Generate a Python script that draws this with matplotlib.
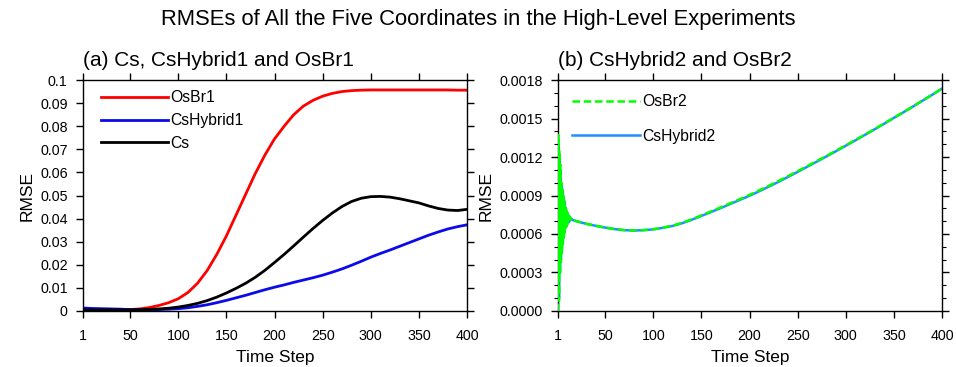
import matplotlib
matplotlib.use("Agg")
import matplotlib.pyplot as plt
import numpy as np
from matplotlib.ticker import FixedLocator, MultipleLocator, FuncFormatter

plt.rcParams['font.family'] = ['Liberation Sans', 'DejaVu Sans']

# ---------------- data: panel (a) ----------------
steps_a = [1, 10, 20, 30, 40, 50, 60, 70, 80, 90, 100, 110, 120, 130, 140, 150, 160, 170,
           180, 190, 200, 210, 220, 230, 240, 250, 260, 270, 280, 290, 300, 310, 320, 330,
           340, 350, 360, 370, 380, 390, 400]
osbr1 = [0.0002, 0.0002, 0.0002, 0.0003, 0.0004, 0.0006, 0.0009, 0.0015, 0.0024, 0.0036,
         0.0053, 0.0080, 0.0120, 0.0175, 0.0245, 0.0325, 0.0415, 0.0505, 0.0595, 0.0675,
         0.0745, 0.0800, 0.0850, 0.0887, 0.0912, 0.0930, 0.0942, 0.0950, 0.0954, 0.0956,
         0.0957, 0.0957, 0.0957, 0.0957, 0.0957, 0.0957, 0.0957, 0.0957, 0.0957, 0.0956,
         0.0956]
cshybrid1 = [0.0013, 0.0011, 0.0010, 0.0009, 0.0008, 0.0006, 0.0005, 0.0005, 0.0006, 0.0008,
             0.0010, 0.0014, 0.0020, 0.0027, 0.0036, 0.0046, 0.0057, 0.0068, 0.0080, 0.0092,
             0.0103, 0.0113, 0.0124, 0.0134, 0.0144, 0.0155, 0.0168, 0.0182, 0.0198, 0.0215,
             0.0233, 0.0249, 0.0264, 0.0280, 0.0296, 0.0312, 0.0328, 0.0342, 0.0355, 0.0365,
             0.0373]
cs = [0.0005, 0.0005, 0.0005, 0.0005, 0.0005, 0.0005, 0.0006, 0.0007, 0.0009, 0.0012,
      0.0017, 0.0024, 0.0033, 0.0045, 0.0060, 0.0078, 0.0098, 0.0120, 0.0146, 0.0176,
      0.0210, 0.0245, 0.0282, 0.0320, 0.0357, 0.0392, 0.0424, 0.0452, 0.0474, 0.0488,
      0.0495, 0.0496, 0.0493, 0.0486, 0.0477, 0.0468, 0.0455, 0.0444, 0.0437, 0.0435,
      0.0440]

# ---------------- data: panel (b) ----------------
steps_b = [1, 1.5, 2, 2.5, 3, 3.5, 4, 4.5, 5, 5.5, 6, 6.5, 7, 7.5, 8, 8.5, 9, 9.5, 10, 10.5,
           11, 11.5, 12, 12.5, 13, 13.5, 14, 14.5, 15, 15.5, 16,
           20, 30, 40, 50, 60, 70, 80, 90, 100, 110, 120, 130, 140, 150, 160, 170, 180, 190,
           200, 210, 220, 230, 240, 250, 260, 270, 280, 290, 300, 310, 320, 330, 340, 350,
           360, 370, 380, 390, 400]
osbr2 = [0.0, 0.00137, 0.00008, 0.00125, 0.00028, 0.00114, 0.00038, 0.00100, 0.00045, 0.00095,
         0.00052, 0.00090, 0.00057, 0.00086, 0.00061, 0.00082, 0.00064, 0.00079, 0.00066, 0.00077,
         0.00068, 0.00075, 0.00069, 0.00074, 0.00070, 0.00073, 0.00071, 0.00072, 0.00071, 0.000715,
         0.00071,
         0.000700, 0.000680, 0.000664, 0.000650, 0.000638, 0.000630, 0.000627, 0.000630, 0.000637,
         0.000650, 0.000665, 0.000687, 0.000715, 0.000745, 0.000776, 0.000808, 0.000840, 0.000872,
         0.000905, 0.000940, 0.000976, 0.001013, 0.001051, 0.001090, 0.001129, 0.001169, 0.001209,
         0.001250, 0.001291, 0.001333, 0.001375, 0.001418, 0.001462, 0.001506, 0.001550, 0.001595,
         0.001641, 0.001687, 0.001733]
cshybrid2 = [0.0, 0.00130, 0.00010, 0.00120, 0.00030, 0.00110, 0.00040, 0.00098, 0.00047, 0.00093,
             0.00053, 0.00089, 0.00058, 0.00085, 0.00062, 0.00081, 0.00065, 0.00078, 0.00067, 0.00076,
             0.00068, 0.00075, 0.00069, 0.00074, 0.00070, 0.00073, 0.00071, 0.00072, 0.00071, 0.000715,
             0.00071,
             0.000700, 0.000680, 0.000664, 0.000650, 0.000638, 0.000630, 0.000627, 0.000630, 0.000636,
             0.000648, 0.000663, 0.000684, 0.000711, 0.000741, 0.000771, 0.000802, 0.000834, 0.000866,
             0.000898, 0.000933, 0.000969, 0.001006, 0.001045, 0.001084, 0.001124, 0.001164, 0.001205,
             0.001246, 0.001288, 0.001330, 0.001373, 0.001416, 0.001460, 0.001505, 0.001549, 0.001594,
             0.001640, 0.001686, 0.001733]

xticks = [1, 50, 100, 150, 200, 250, 300, 350, 400]
yticks_a = [0, 0.01, 0.02, 0.03, 0.04, 0.05, 0.06, 0.07, 0.08, 0.09, 0.1]
yticks_b = [0.0, 0.0003, 0.0006, 0.0009, 0.0012, 0.0015, 0.0018]

fig = plt.figure(figsize=(9.56, 3.67), dpi=100)
ax1 = fig.add_axes([0.0868, 0.1526, 0.4017, 0.6294])
ax2 = fig.add_axes([0.5837, 0.1526, 0.4017, 0.6294])

def style(ax):
    for s in ax.spines.values():
        s.set_linewidth(1.0)
    ax.tick_params(which='major', direction='out', length=5, width=1.0,
                   top=True, right=True, labelsize=10.3)
    ax.tick_params(axis='y', which='major', pad=6)
    ax.tick_params(axis='x', which='major', pad=8)
    ax.tick_params(which='minor', direction='out', length=2.8, width=0.8,
                   top=True, right=True)
    ax.set_xlim(1, 400)
    ax.xaxis.set_major_locator(FixedLocator(xticks))
    ax.set_xlabel('Time Step', fontsize=12.5, labelpad=5)
    ax.set_ylabel('RMSE', fontsize=12.5, labelpad=4)

# panel (a)
ax1.plot(steps_a, osbr1, color='#ff0000', lw=2.0, label='OsBr1')
ax1.plot(steps_a, cshybrid1, color='#0a0aeb', lw=2.0, label='CsHybrid1')
ax1.plot(steps_a, cs, color='black', lw=2.0, label='Cs')
style(ax1)
ax1.set_ylim(0, 0.1)
ax1.yaxis.set_major_locator(FixedLocator(yticks_a))
ax1.yaxis.set_major_formatter(FuncFormatter(lambda v, p: '0' if v == 0 else ('%.2f' % v).rstrip('0')))
ax1.set_title('(a) Cs, CsHybrid1 and OsBr1', loc='left', fontsize=15, pad=10)
ax1.legend(loc='upper left', frameon=False, fontsize=11.3, handlelength=4.3,
           handletextpad=0.15, labelspacing=0.5, borderaxespad=0.25,
           bbox_to_anchor=(0.02, 1.0))

# panel (b)
ax2.plot(steps_b, cshybrid2, color='#1e90ff', lw=1.8, label='CsHybrid2', zorder=2)
ax2.plot(steps_b, osbr2, color='#00ff00', lw=1.8, ls=(0, (3, 1.5)), label='OsBr2', zorder=3)
style(ax2)
ax2.set_ylim(0, 0.0018)
ax2.yaxis.set_major_locator(FixedLocator(yticks_b))
ax2.yaxis.set_minor_locator(MultipleLocator(0.0001))
ax2.yaxis.set_major_formatter(FuncFormatter(lambda v, p: '%.4f' % v))
ax2.set_title('(b) CsHybrid2 and OsBr2', loc='left', fontsize=15, pad=10)
h, l = ax2.get_legend_handles_labels()
ax2.legend([h[1], h[0]], [l[1], l[0]], loc='upper left', frameon=False, fontsize=11.3,
           handlelength=4.3, handletextpad=0.15, labelspacing=1.25, borderaxespad=0.5,
           bbox_to_anchor=(0.0, 1.0))

fig.suptitle('RMSEs of All the Five Coordinates in the High-Level Experiments',
             fontsize=15.8, y=0.975)

fig.savefig('out.png', dpi=100)
